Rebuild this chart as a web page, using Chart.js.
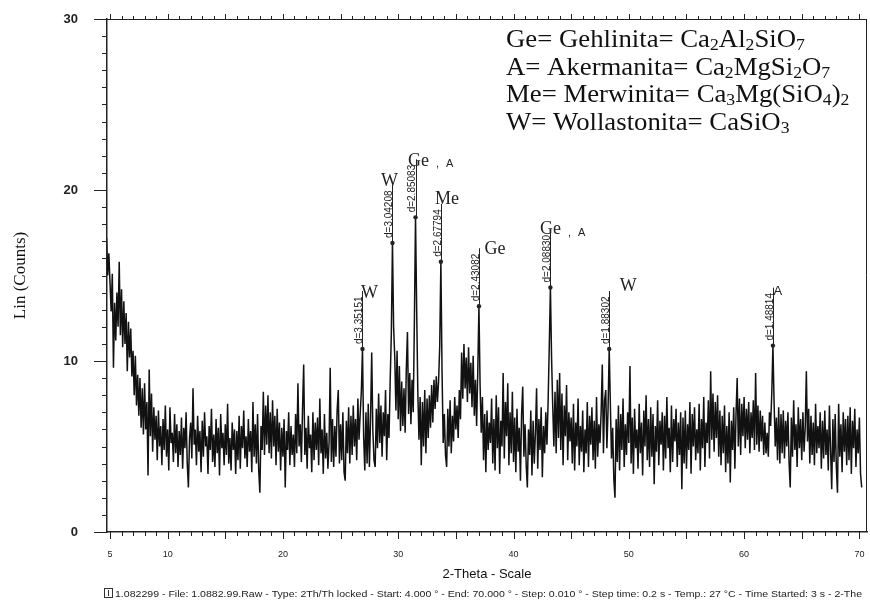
<!DOCTYPE html>
<html>
<head>
<meta charset="utf-8">
<title>XRD - 2-Theta scan</title>
<script src="https://cdn.jsdelivr.net/npm/chart.js@4.4.1/dist/chart.umd.min.js"></script>
<style>
  html, body { margin: 0; padding: 0; background: #fff; }
  #wrap { width: 870px; height: 605px; position: relative; }
</style>
</head>
<body>
<div id="wrap"><canvas id="xrdChart"></canvas></div>
<script>
// Scan grid (2-Theta, degrees)
const scanStart = 4.7;
const scanStep = 0.1;

// Lin (Counts), one row per degree
const counts = [
  17.2, 15.0, 16.3,
  14.6, 12.9, 15.1, 9.6, 13.4, 11.2, 14.0, 12.0, 15.8, 11.5,   // 5
  14.2, 10.8, 13.5, 11.0, 12.8, 9.4, 12.3, 10.2, 11.9, 9.1,    // 6
  10.6, 8.0, 10.3, 7.4, 9.2, 6.8, 9.0, 6.1, 8.4, 5.7,          // 7
  8.7, 6.0, 7.6, 3.3, 9.5, 5.6, 8.1, 4.7, 7.3, 5.4,            // 8
  6.8, 4.2, 7.1, 5.0, 6.2, 3.9, 6.6, 4.8, 7.4, 4.4,            // 9
  6.0, 3.6, 7.3, 5.2, 5.8, 4.1, 6.9, 4.6, 6.3, 3.8,            // 10
  5.9, 4.5, 6.7, 3.7, 6.1, 4.9, 7.0, 4.0, 2.6, 5.5,            // 11
  6.4, 4.3, 8.4, 5.1, 6.0, 3.9, 6.8, 4.7, 5.9, 3.5,            // 12
  6.5, 4.4, 7.0, 5.0, 5.6, 3.4, 6.2, 4.8, 7.2, 4.1,            // 13
  5.7, 3.8, 6.6, 4.6, 6.1, 3.3, 6.9, 4.9, 5.8, 3.9,            // 14
  6.3, 4.5, 7.5, 4.0, 5.5, 3.6, 6.4, 4.8, 6.0, 3.4,            // 15
  5.9, 4.2, 6.8, 3.7, 6.2, 4.9, 7.1, 4.3, 5.6, 3.8,            // 16
  6.6, 4.7, 5.9, 3.5, 7.6, 4.4, 6.3, 4.0, 6.9, 3.6,            // 17
  2.3, 6.2, 4.8, 8.2, 4.5, 7.4, 5.1, 8.0, 4.6, 7.0,            // 18
  4.3, 7.7, 5.0, 6.8, 3.9, 7.2, 4.7, 6.4, 3.6, 6.1,            // 19
  4.4, 6.6, 2.6, 5.9, 4.8, 7.0, 3.9, 6.2, 4.5, 5.7,            // 20
  3.8, 6.9, 4.6, 8.7, 5.0, 6.3, 4.1, 7.2, 9.8, 4.5,            // 21
  6.1, 3.7, 6.8, 4.9, 5.7, 3.5, 7.0, 4.2, 6.4, 4.8,            // 22
  6.7, 3.9, 7.8, 4.6, 6.0, 3.4, 6.9, 4.3, 5.8, 3.7,            // 23
  5.2, 9.6, 4.1, 6.6, 3.8, 6.2, 4.4, 7.1, 8.3, 4.0,            // 24
  6.3, 4.2, 7.0, 3.5, 3.0, 6.5, 4.6, 7.3, 4.0, 6.8,            // 25
  4.5, 7.4, 5.0, 6.6, 4.2, 7.8, 5.4, 6.9, 8.2, 10.7,           // 26
  5.6, 3.6, 7.0, 4.0, 7.5, 3.8, 6.6, 10.5, 5.9, 4.2,           // 27
  3.8, 7.2, 4.9, 8.1, 5.2, 7.4, 4.4, 7.0, 5.6, 8.3,            // 28
  4.2, 6.9, 5.5, 8.8, 11.5, 16.9, 12.0, 10.2, 7.1, 10.6,       // 29
  6.6, 9.7, 5.9, 8.8, 6.2, 8.4, 5.8, 9.5, 11.7, 6.9,           // 30
  9.3, 6.3, 8.9, 7.0, 12.2, 18.4, 13.0, 8.2, 5.4, 7.9,         // 31
  3.9, 7.6, 5.0, 8.3, 4.6, 7.8, 5.5, 8.0, 6.1, 8.6,            // 32
  6.4, 8.9, 7.2, 9.1, 7.6, 8.8, 10.9, 15.8, 9.4, 5.2,          // 33
  6.9, 4.5, 3.8, 7.2, 5.0, 7.7, 4.6, 6.8, 5.3, 7.9,            // 34
  6.0, 7.4, 5.5, 8.3, 6.6, 10.5, 7.8, 11.0, 8.4, 10.2,         // 35
  7.6, 10.8, 8.1, 9.9, 7.3, 10.3, 6.8, 8.9, 6.2, 9.4,          // 36
  13.2, 8.6, 5.8, 7.9, 4.2, 6.9, 3.5, 7.1, 4.8, 6.4,           // 37
  5.2, 7.8, 4.0, 6.6, 3.6, 8.0, 4.9, 7.3, 3.4, 6.5,            // 38
  5.0, 9.3, 4.3, 7.6, 5.6, 8.7, 3.9, 7.0, 4.6, 8.2,            // 39
  4.1, 6.7, 3.5, 7.2, 4.7, 6.1, 3.0, 6.9, 8.5, 4.4,            // 40
  6.3, 3.9, 2.6, 6.0, 4.5, 7.1, 3.3, 6.5, 4.0, 5.8,            // 41
  8.4, 3.7, 6.6, 4.8, 7.3, 3.2, 6.2, 4.6, 7.0, 5.1,            // 42
  7.6, 10.8, 14.3, 10.2, 7.4, 5.0, 8.2, 4.6, 8.9, 5.5,         // 43
  9.3, 4.8, 8.1, 3.9, 7.4, 5.6, 8.6, 4.2, 7.0, 5.3,            // 44
  6.7, 4.0, 7.5, 3.6, 6.4, 5.0, 7.8, 3.9, 6.2, 4.7,            // 45
  7.1, 3.5, 6.0, 4.6, 7.6, 3.8, 6.8, 5.1, 7.3, 4.2,            // 46
  6.5, 3.7, 7.9, 4.4, 6.3, 5.2, 7.0, 9.8, 4.6, 7.7,            // 47
  8.3, 4.9, 7.2, 10.7, 7.5, 4.3, 6.1, 3.1, 2.0, 6.6,           // 48
  4.1, 7.4, 3.6, 6.9, 4.8, 7.8, 3.8, 6.3, 4.5, 7.0,            // 49
  5.2, 9.7, 4.0, 6.7, 3.4, 7.2, 4.9, 6.0, 3.7, 7.5,            // 50
  4.6, 6.4, 3.3, 7.1, 5.0, 8.0, 4.2, 6.6, 3.8, 7.3,            // 51
  4.4, 6.9, 2.8, 6.2, 4.7, 7.7, 3.9, 6.5, 5.1, 7.0,            // 52
  3.6, 6.8, 4.3, 7.9, 4.9, 6.1, 3.5, 7.4, 4.1, 6.6,            // 53
  5.3, 7.2, 3.8, 6.4, 4.5, 7.0, 2.5, 6.7, 4.0, 7.1,            // 54
  3.7, 6.3, 4.8, 7.6, 3.4, 6.9, 5.0, 7.3, 4.2, 6.0,            // 55
  4.6, 7.5, 3.6, 6.6, 4.9, 7.9, 3.8, 6.4, 5.2, 7.7,            // 56
  4.3, 9.4, 5.4, 8.1, 4.7, 7.6, 5.5, 8.0, 4.4, 7.1,            // 57
  3.9, 6.8, 4.6, 7.4, 3.5, 6.2, 4.0, 7.0, 2.9, 6.5,            // 58
  4.8, 7.3, 3.7, 6.9, 9.0, 5.0, 7.8, 4.5, 7.5, 5.6,            // 59
  7.9, 4.9, 7.2, 5.4, 7.6, 4.6, 7.0, 5.5, 7.7, 4.8,            // 60
  9.3, 5.1, 7.4, 4.7, 7.1, 5.3, 6.8, 4.5, 6.4, 4.6,            // 61
  5.8, 4.4, 7.0, 6.2, 8.1, 10.9, 7.6, 5.0, 6.7, 4.2,           // 62
  7.3, 4.0, 6.9, 4.6, 7.1, 4.3, 6.5, 5.0, 7.0, 4.1,            // 63
  2.6, 6.7, 4.4, 7.7, 4.8, 6.3, 3.8, 7.3, 4.9, 6.6,            // 64
  4.2, 7.0, 4.7, 6.1, 9.4, 5.3, 7.2, 4.0, 6.8, 4.5,            // 65
  6.4, 3.9, 7.5, 4.6, 6.2, 4.9, 7.0, 3.7, 6.5, 4.3,            // 66
  7.1, 4.5, 6.0, 3.6, 7.4, 4.8, 2.5, 6.6, 4.1, 6.9,            // 67
  3.8, 2.3, 7.5, 4.4, 6.3, 3.5, 7.0, 4.7, 6.6, 3.9,            // 68
  6.8, 4.2, 7.3, 3.4, 6.5, 4.9, 7.2, 3.8, 6.0, 4.6,            // 69
  6.7, 3.4, 2.6                                                // 70
];

// Axis tick labels
const xTickValues = [5, 10, 20, 30, 40, 50, 60, 70];
const yTickValues = [0, 10, 20, 30];

// Identified peaks
const peakTheta = [26.9, 29.5, 31.5, 33.7, 37.0, 43.2, 48.3, 62.5];
const peakD = ['3.35151', '3.04208', '2.85083', '2.67794', '2.43082', '2.08830', '1.88302', '1.48814'];
const peakPhase = ['W', 'W', 'Ge,A', 'Me', 'Ge', 'Ge,A', 'W', 'A'];

// Phase key (box at top right); "_" marks a subscript digit
const phaseCodes = ['Ge', 'A', 'Me', 'W'];
const phaseNames = ['Gehlinita', 'Akermanita', 'Merwinita', 'Wollastonita'];
const phaseFormulas = ['Ca_2Al_2SiO_7', 'Ca_2MgSi_2O_7', 'Ca_3Mg(SiO_4)_2', 'CaSiO_3'];

const footerText = '1.082299 - File: 1.0882.99.Raw - Type: 2Th/Th locked - Start: 4.000 \u00b0 - End: 70.000 \u00b0 - Step: 0.010 \u00b0 - Step time: 0.2 s - Temp.: 27 \u00b0C - Time Started: 3 s - 2-The';

// Build the point list from the scan grid
const scanPoints = counts.map((c, i) => ({ x: +(scanStart + i * scanStep).toFixed(2), y: c }));

const SERIF = '"Liberation Serif", "Times New Roman", serif';
const SANS = '"Liberation Sans", Arial, sans-serif';

// Write a chemical formula with subscripts, returns the x where it ends
function drawFormula(ctx, text, x, y, size) {
    const parts = text.split(/(_\d)/).filter(Boolean);
    parts.forEach(p => {
        if (p[0] === '_') {
            ctx.font = (size * 0.66) + 'px ' + SERIF;
            ctx.fillText(p[1], x, y + size * 0.12);
            x += ctx.measureText(p[1]).width;
        } else {
            ctx.font = size + 'px ' + SERIF;
            ctx.fillText(p, x, y);
            x += ctx.measureText(p).width;
        }
    });
    return x;
}

// Frame, minor ticks, peak marks, phase key and footer
const xrdDecor = {
    id: 'xrdDecor',
    afterDraw(chart) {
        const ctx = chart.ctx;
        const area = chart.chartArea;
        const xs = chart.scales.x;
        const ys = chart.scales.y;
        ctx.save();
        ctx.strokeStyle = '#222';
        ctx.fillStyle = '#222';
        ctx.lineWidth = 1;

        // top and right edges of the frame
        ctx.beginPath();
        ctx.moveTo(area.left, area.top + 0.5);
        ctx.lineTo(area.right, area.top + 0.5);
        ctx.moveTo(area.right - 0.5, area.top);
        ctx.lineTo(area.right - 0.5, area.bottom);
        ctx.stroke();

        // x ticks: every degree, longer every 5
        ctx.beginPath();
        for (let t = 5; t <= 70; t++) {
            const px = Math.round(xs.getPixelForValue(t)) + 0.5;
            const major = t % 5 === 0;
            ctx.moveTo(px, area.bottom);
            ctx.lineTo(px, area.bottom + (major ? 7 : 4));
            ctx.moveTo(px, area.top);
            ctx.lineTo(px, area.top - (major ? 5 : 3));
        }
        // y ticks: every count, longer every 10
        for (let v = 0; v <= 30; v++) {
            const py = Math.round(ys.getPixelForValue(v)) + 0.5;
            const major = v % 10 === 0;
            ctx.moveTo(area.left, py);
            ctx.lineTo(area.left - (major ? 13 : 5), py);
        }
        ctx.stroke();

        // peak markers with d-spacing and phase tags
        const tagOffsets = [[7, -56], [-3, -62], [3, -56], [6, -63], [16, -57], [0, -58], [19, -63], [5, -54]];
        peakTheta.forEach((t, i) => {
            const k = Math.round((t - scanStart) / scanStep);
            const px = xs.getPixelForValue(t);
            const py = ys.getPixelForValue(counts[k]);

            ctx.beginPath();
            ctx.moveTo(Math.round(px) + 0.5, py);
            ctx.lineTo(Math.round(px) + 0.5, py - 58);
            ctx.stroke();
            ctx.beginPath();
            ctx.arc(px, py, 2.2, 0, Math.PI * 2);
            ctx.fill();

            ctx.save();
            ctx.translate(px - 3, py - 5);
            ctx.rotate(-Math.PI / 2);
            ctx.font = '10px ' + SANS;
            ctx.textAlign = 'left';
            ctx.textBaseline = 'middle';
            ctx.fillText('d=' + peakD[i], 0, 0);
            ctx.restore();

            const cx = px + tagOffsets[i][0];
            const cy = py + tagOffsets[i][1];
            ctx.textBaseline = 'middle';
            if (peakPhase[i] === 'Ge,A') {
                ctx.font = '18px ' + SERIF;
                ctx.textAlign = 'center';
                ctx.fillText('Ge', cx, cy);
                const right = cx + ctx.measureText('Ge').width / 2;
                ctx.textAlign = 'left';
                ctx.font = '11px ' + SANS;
                ctx.fillText(',', right + 7, cy + 3);
                ctx.fillText('A', right + 17, cy + 3);
            } else if (peakPhase[i] === 'A') {
                ctx.font = '13px ' + SANS;
                ctx.textAlign = 'center';
                ctx.fillText('A', cx, cy);
            } else {
                ctx.font = '18px ' + SERIF;
                ctx.textAlign = 'center';
                ctx.fillText(peakPhase[i], cx, cy);
            }
        });

        // phase key (the scanned type is a little wider than Times)
        ctx.save();
        ctx.fillStyle = '#111';
        ctx.textAlign = 'left';
        ctx.textBaseline = 'alphabetic';
        ctx.translate(506, 0);
        ctx.scale(1.07, 1);
        phaseCodes.forEach((code, i) => {
            const y = 47 + i * 27.7;
            ctx.font = '25px ' + SERIF;
            const lead = code + '= ' + phaseNames[i] + '= ';
            ctx.fillText(lead, 0, y);
            drawFormula(ctx, phaseFormulas[i], ctx.measureText(lead).width, y, 25);
        });
        ctx.restore();

        // instrument footer line, stretched to run under the whole axis
        ctx.strokeStyle = '#333';
        ctx.strokeRect(104.5, 588.5, 8, 9);
        ctx.beginPath();
        ctx.moveTo(108.5, 590);
        ctx.lineTo(108.5, 596);
        ctx.stroke();
        ctx.save();
        ctx.fillStyle = '#222';
        ctx.textAlign = 'left';
        ctx.textBaseline = 'alphabetic';
        ctx.font = '9px ' + SANS;
        const fw = ctx.measureText(footerText).width;
        ctx.translate(115, 597);
        ctx.scale(747 / fw, 1);
        ctx.fillText(footerText, 0, 0);
        ctx.restore();

        ctx.restore();
    }
};

const ctx = document.getElementById('xrdChart').getContext('2d');
const xrdChart = new Chart(ctx, {
    type: 'line',
    data: {
        datasets: [{
            label: 'Lin (Counts)',
            data: scanPoints,
            borderColor: '#111',
            borderWidth: 1.5,
            pointRadius: 0,
            tension: 0,
            fill: false
        }]
    },
    options: {
        responsive: true,
        maintainAspectRatio: false,
        animation: false,
        layout: { padding: { top: 19, right: 3, left: 0, bottom: 0 } },
        plugins: {
            legend: { display: false },
            tooltip: { enabled: false }
        },
        scales: {
            x: {
                type: 'linear',
                min: 4.74,
                max: 70.66,
                grid: { display: false },
                border: { display: true, color: '#222', width: 1.5 },
                afterFit(scale) {
                    scale.height = 73;
                    scale.paddingLeft = 0;
                    scale.paddingRight = 0;
                },
                afterBuildTicks(scale) { scale.ticks = xTickValues.map(v => ({ value: v })); },
                ticks: {
                    autoSkip: false,
                    maxRotation: 0,
                    padding: 9,
                    color: '#222',
                    font: { family: SANS, size: 9 }
                },
                title: {
                    display: true,
                    text: '2-Theta - Scale',
                    color: '#111',
                    font: { family: SANS, size: 13 },
                    padding: { top: 0, bottom: 23 }
                }
            },
            y: {
                min: 0,
                max: 30,
                grid: { display: false },
                border: { display: true, color: '#222', width: 1.5 },
                afterFit(scale) {
                    scale.width = 107;
                    scale.paddingTop = 0;
                    scale.paddingBottom = 0;
                },
                afterBuildTicks(scale) { scale.ticks = yTickValues.map(v => ({ value: v })); },
                ticks: {
                    padding: 21,
                    color: '#222',
                    font: { family: SANS, size: 13, weight: 'bold' }
                },
                title: {
                    display: true,
                    text: 'Lin (Counts)',
                    color: '#111',
                    font: { family: SERIF, size: 17 },
                    padding: { top: 10, bottom: 0 }
                }
            }
        }
    },
    plugins: [xrdDecor]
});
</script>
</body>
</html>
